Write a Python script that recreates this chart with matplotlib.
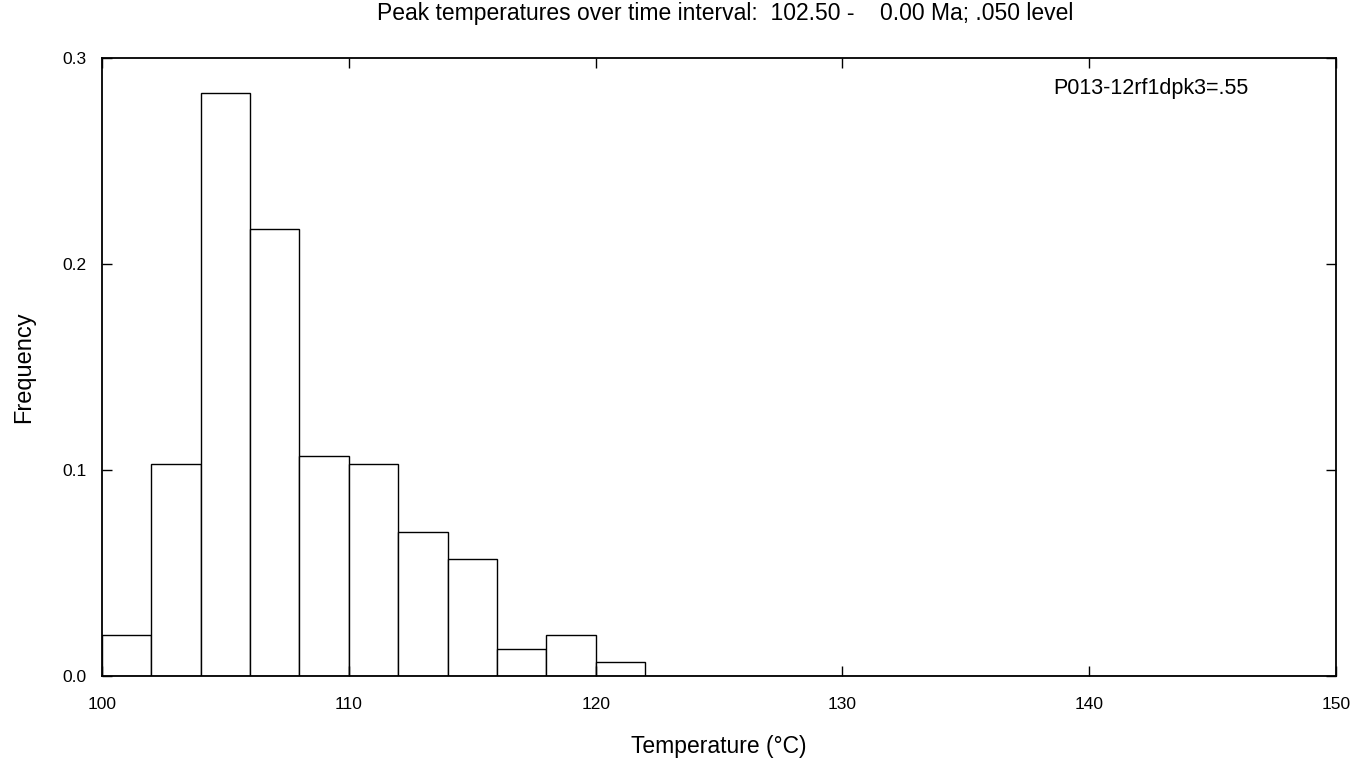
import numpy as np
import matplotlib
matplotlib.use("Agg")
import matplotlib.pyplot as plt

plt.rcParams['font.family'] = ['Liberation Sans', 'DejaVu Sans']

# Histogram of peak temperatures, 2 degree bins from 100 to 150
bin_edges = np.arange(100, 152, 2)
freq = [0.020, 0.103, 0.283, 0.217, 0.107, 0.103, 0.070, 0.057, 0.013, 0.020, 0.007,
        0, 0, 0, 0, 0, 0, 0, 0, 0, 0, 0, 0, 0, 0]

x_ticks = [100, 110, 120, 130, 140, 150]
y_ticks = [0.0, 0.1, 0.2, 0.3]
title = "Peak temperatures over time interval:  102.50 -    0.00 Ma; .050 level"
tag = "P013-12rf1dpk3=.55"

fig = plt.figure(figsize=(13.69, 7.61), dpi=100)
ax = fig.add_axes([0.0745, 0.1117, 0.9015, 0.8121])

ax.bar(bin_edges[:-1], freq, width=2, align='edge', facecolor='white',
       edgecolor='black', linewidth=1.0)

ax.set_xlim(100, 150)
ax.set_ylim(0, 0.3)
ax.set_xticks(x_ticks)
ax.set_yticks(y_ticks)
ax.set_yticklabels([f"{v:.1f}" for v in y_ticks])
ax.tick_params(direction='in', length=7.5, width=1, top=True, right=True,
               labelsize=12.5)
ax.tick_params(axis='x', pad=15)
ax.tick_params(axis='y', pad=11)
for s in ax.spines.values():
    s.set_linewidth(1.3)

ax.set_xlabel("Temperature (°C)", fontsize=16.5, labelpad=17)
ax.set_ylabel("Frequency", fontsize=17, labelpad=20)
fig.text(0.530, 0.982, title, ha='center', va='center', fontsize=16.5)
ax.text(0.850, 0.951, tag, transform=ax.transAxes, ha='center', va='center',
        fontsize=15.5)

fig.savefig("out.png", dpi=100)
